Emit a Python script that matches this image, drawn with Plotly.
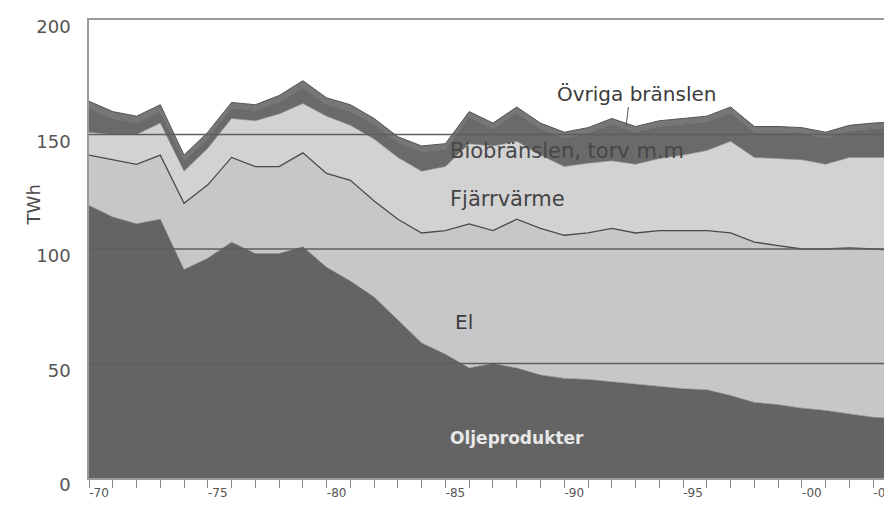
import plotly.graph_objects as go

years = list(range(1970, 2005))

oljeprodukter = [119, 114, 111, 113, 91, 96, 103, 98, 98, 101, 92, 86, 79, 69, 59, 54, 48, 50, 48, 45,
                 43.5, 43, 42, 41, 40, 39, 38.5, 36, 33, 32, 30.5, 29.5, 28, 26.5, 26]
el = [22, 25, 26, 28, 29, 32, 37, 38, 38, 41, 41, 44, 42, 44, 48, 54, 63, 58, 65, 64,
      62.5, 64, 67, 66, 68, 69, 69.5, 71, 70, 69.5, 69.5, 70.5, 72.5, 73.5, 73.5]
fjarrvarme = [10, 11, 13, 14, 14, 16, 17, 20, 23, 21.5, 25, 24, 27, 27, 27, 28, 35, 37, 34, 32,
              30, 30.5, 29.5, 30, 31.5, 33, 35, 40, 37, 38, 39, 37, 39.5, 40, 40.5]
biobransle = [10.5, 7, 5, 5, 4.5, 4.5, 4.5, 4.5, 5, 7, 5, 6, 6.5, 6.5, 8.5, 7.5, 11.5, 7.5, 12.5, 11.5,
              12.5, 13, 16, 14, 14, 13.5, 12.5, 12.5, 11, 11.5, 11.5, 11.5, 11.5, 12.5, 13]
ovriga = [3, 3, 3, 3, 2.5, 2.5, 2.5, 2.5, 3, 3, 3, 3, 2.5, 2.5, 2.5, 2.5, 2.5, 2.5, 2.5, 2.5,
          2.5, 2.5, 2.5, 2.5, 2.5, 2.5, 2.5, 2.5, 2.5, 2.5, 2.5, 2.5, 2.5, 2.5, 2.5]

x_tickvals = [1970, 1975, 1980, 1985, 1990, 1995, 2000, 2003]
x_ticktext = ["-70", "-75", "-80", "-85", "-90", "-95", "-00", "-03"]
y_tickvals = [0, 50, 100, 150, 200]
grid_vals = [50, 100, 150]

FONT = "DejaVu Sans, Verdana, sans-serif"

series = [
    ("Oljeprodukter", oljeprodukter, "#646464", "#646464", 0.5),
    ("El", el, "#c7c7c9", "#4a4a4a", 1.3),
    ("Fjärrvärme", fjarrvarme, "#d2d2d3", "#8a8a8a", 0.6),
    ("Biobränslen, torv m.m", biobransle, "#6a6a6a", "#626262", 0.6),
    ("Övriga bränslen", ovriga, "#777777", "#555555", 1.0),
]

fig = go.Figure()
for name, vals, fc, lc, lw in series:
    fig.add_trace(go.Scatter(
        x=years, y=vals, name=name, mode="lines", stackgroup="one",
        fillcolor=fc, line=dict(color=lc, width=lw), hoverinfo="skip",
    ))

for g in grid_vals:
    fig.add_shape(type="line", xref="paper", x0=0, x1=1, yref="y", y0=g, y1=g,
                  line=dict(color="#5e5e5e", width=1.6), layer="above")

labels = [
    ("Oljeprodukter", 1985.1, 17.5, "#e8e8e8", 17, "bold"),
    ("El", 1985.3, 68, "#3a3a3a", 20, "normal"),
    ("Fjärrvärme", 1985.1, 122, "#444444", 21, "normal"),
    ("Biobränslen, torv m.m", 1985.1, 143, "#474747", 21, "normal"),
]
for txt, xv, yv, col, sz, wt in labels:
    fig.add_annotation(x=xv, y=yv, text=txt, showarrow=False, xanchor="left", yanchor="middle",
                       font=dict(family=FONT, size=sz, color=col, weight=wt))

fig.add_annotation(x=1993.05, y=167.5, text="Övriga bränslen", showarrow=False,
                   xanchor="center", yanchor="middle",
                   font=dict(family=FONT, size=20, color="#3c3c3c"))
fig.add_shape(type="line", xref="x", yref="y", x0=1992.7, x1=1992.6, y0=162, y1=153.5,
              line=dict(color="#555555", width=1), layer="above")

fig.add_annotation(xref="paper", yref="paper", x=-0.084, y=0.596, text="TWh", textangle=-90,
                   showarrow=False, font=dict(family=FONT, size=18, color="#4a4a4a"))

# the page body adds an 8px offset; margins compensate so the plot sits where the reference has it
fig.update_layout(
    width=892, height=508,
    margin=dict(l=81, r=0, t=12, b=38, autoexpand=False),
    paper_bgcolor="white", plot_bgcolor="white",
    showlegend=False,
    font=dict(family=FONT, color="#555555"),
)
fig.update_xaxes(
    automargin=False,
    range=[1970, 2004.13], tickmode="array", tickvals=x_tickvals, ticktext=x_ticktext,
    ticks="outside", ticklen=8, tickcolor="#888888", tickwidth=1.2,
    tickfont=dict(size=12, color="#555555"), ticklabelshift=10, ticklabelstandoff=-5,
    minor=dict(ticks="outside", ticklen=8, tickcolor="#888888", tickwidth=1.2,
               tickmode="array", tickvals=years),
    showgrid=False, showline=True, linecolor="#9a9a9a", linewidth=1.5, mirror=True,
    zeroline=False,
)
fig.update_yaxes(
    automargin=False,
    range=[0, 200], tickmode="array", tickvals=y_tickvals,
    ticks="", tickfont=dict(size=18, color="#555555"), ticklabelstandoff=13,
    ticklabelshift=7,
    showgrid=False, showline=True, linecolor="#9a9a9a", linewidth=1.5,
    zeroline=False,
)

fig.write_html("out.html")
